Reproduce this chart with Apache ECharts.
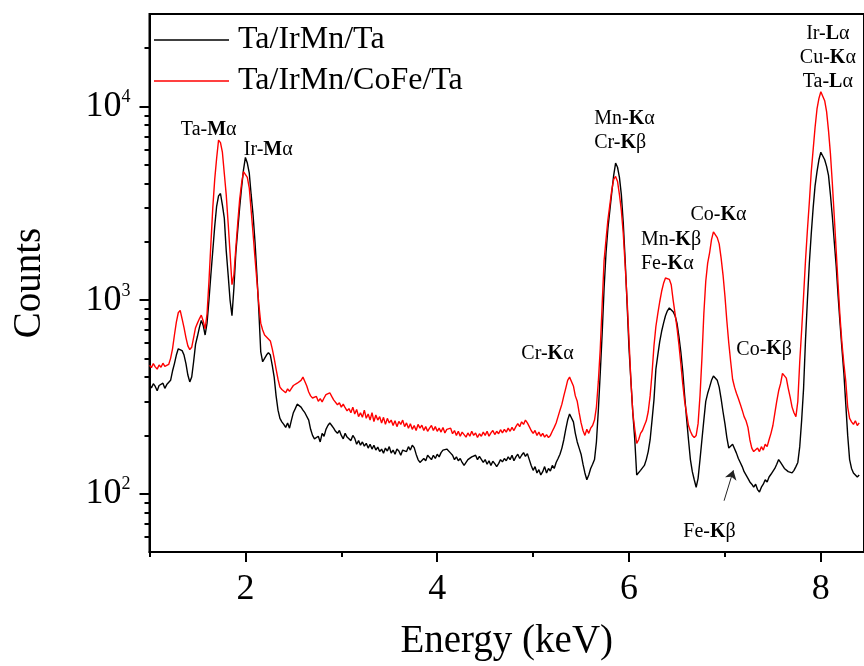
<!DOCTYPE html>
<html><head><meta charset="utf-8">
<script src="https://cdn.jsdelivr.net/npm/echarts@6/dist/echarts.min.js"></script>
<style>html,body{margin:0;padding:0;background:#fff}#c{width:864px;height:666px}</style>
</head><body><div id="c"></div>
<script>
// Energy channel grid (keV)
const energyStart = 1.0;
const energyStep = 0.02;
// Counts, one value per channel (1.00 ... 8.40 keV)
const countsTaIrMnTa = [
365,352,370,358,340,362,355,372,350,366,
372,385,430,470,520,560,565,548,520,470,
410,378,400,480,590,650,720,785,740,660,
760,1000,1350,1800,2400,3050,3450,3550,3100,2650,
1800,1350,1000,830,1150,1750,2300,3000,3800,4700,
5450,5100,4540,3500,2750,2000,1350,880,540,480,
500,520,535,520,460,400,320,270,245,235,
228,220,232,218,240,262,275,290,295,280,
270,262,265,240,215,200,192,188,198,185,
205,198,215,225,232,225,218,210,205,212,
200,192,205,196,195,188,200,193,180,188,
178,185,176,182,172,180,170,178,168,174,
165,170,162,172,166,175,162,168,160,170,
166,158,168,172,165,175,168,178,173,160,
150,145,143,152,148,158,155,150,158,152,
160,155,163,168,172,170,173,162,158,150,
155,148,152,145,140,143,150,147,155,152,
158,150,156,154,145,150,142,148,140,147,
143,138,143,150,146,152,148,155,150,158,
148,155,160,152,158,163,156,161,150,140,
132,138,128,133,125,130,138,128,135,131,
140,135,145,152,160,172,190,215,240,258,
255,235,205,185,172,160,142,128,118,125,
135,142,150,185,270,420,675,1150,1750,2350,
2900,3600,4400,5100,4850,4300,3500,2500,1600,950,
560,380,260,190,125,128,132,135,140,150,
165,190,240,305,440,520,610,690,760,830,
880,910,915,870,830,760,650,540,430,320,
245,190,150,130,118,108,120,150,190,240,
300,330,355,385,405,405,385,355,310,265,
230,195,172,175,180,176,162,152,145,138,
130,127,120,115,112,108,112,105,102,108,
112,118,115,122,126,128,135,142,150,145,
140,135,138,130,133,128,132,138,145,175,
240,350,620,1000,1550,2200,3000,3900,4600,5300,
5800,5750,5300,4900,4400,3500,2700,2000,1500,1050,
760,560,420,290,200,150,135,128,130,122,
125];
const countsTaIrMnCoFeTa = [
460,448,470,452,440,462,450,472,455,448,
465,500,560,660,770,860,885,800,720,640,
580,555,570,640,720,760,800,836,780,710,
850,1250,1950,3000,4200,5400,6700,6500,5800,4500,
3500,2500,1750,1200,1350,1850,2500,3300,4000,4600,
4700,4300,3800,2900,2200,1650,1250,950,760,700,
660,645,630,615,560,500,440,390,355,345,
340,332,348,338,350,362,355,372,368,385,
400,380,360,335,320,312,305,318,300,310,
298,312,325,320,332,318,305,298,288,295,
280,290,278,268,275,262,280,258,272,250,
262,248,270,245,258,240,262,236,255,240,
250,232,248,228,245,232,240,225,238,222,
236,228,240,222,232,218,230,215,225,212,
228,218,226,212,222,210,218,225,212,222,
210,218,208,220,206,215,210,218,204,212,
200,210,198,208,202,196,206,198,210,200,
206,195,204,198,208,200,210,198,206,212,
202,210,204,214,206,215,208,218,210,220,
212,222,230,222,235,228,240,232,222,212,
205,212,200,208,198,205,196,202,195,200,
210,220,232,250,270,290,320,350,385,400,
395,360,320,300,262,232,212,200,215,205,
218,225,240,280,380,560,950,1600,2050,2600,
3100,3700,4200,4350,4100,3500,2900,2200,1500,1000,
620,380,260,215,182,190,205,212,225,238,
265,320,420,580,730,850,980,1110,1220,1300,
1320,1280,1200,1000,850,720,590,470,370,300,
260,225,210,200,195,200,230,320,500,850,
1250,1550,1750,2050,2250,2200,2100,1950,1650,1350,
1050,780,600,480,390,355,330,310,290,270,
250,238,220,190,172,165,162,172,165,175,
168,180,175,190,205,225,260,300,340,370,
418,410,395,350,315,280,262,250,300,480,
700,1050,1600,2300,3200,4600,6000,7800,9700,11000,
11900,11800,10700,9400,7500,5700,4000,2700,1800,1200,
820,600,470,380,280,245,235,228,238,225,
232];
const seriesNames = ['Ta/IrMn/Ta', 'Ta/IrMn/CoFe/Ta'];
// Axis ticks
const xMajorTicks = [2, 4, 6, 8];
const xMinorTicks = [1, 3, 5, 7];
const yMajorTicks = [100, 1000, 10000];
const yMinorTicks = [60,70,80,90,200,300,400,500,600,700,800,900,2000,3000,4000,5000,6000,7000,8000,9000,20000];
// Peak annotations: rich text, anchor energy, anchor counts
const annoText = [
  '{n|Ta-}{b|M}{n|α}',
  '{n|Ir-}{b|M}{n|α}',
  '{n|Mn-}{b|K}{n|α}\n{n|Cr-}{b|K}{n|β}',
  '{n|Mn-}{b|K}{n|β}\n{n|Fe-}{b|K}{n|α}',
  '{n|Co-}{b|K}{n|α}',
  '{n|Cr-}{b|K}{n|α}',
  '{n|Co-}{b|K}{n|β}',
  '{n|Fe-}{b|K}{n|β}',
  '{n|Ir-}{b|L}{n|α}\n{n|Cu-}{b|K}{n|α}\n{n|Ta-}{b|L}{n|α}'
];
const annoEnergy = [1.617, 2.238, 5.637, 6.124, 6.933, 5.150, 7.409, 6.839, 8.073];
const annoCounts = [7600, 5990, 7520, 1782, 2754, 525, 557, 63.5, 17800];
const annoAlign = ['center','center','left','left','center','center','center','center','center'];
const arrowFrom = [6.991, 92];
const arrowTo = [7.088, 132];

const toPairs = arr => arr.map((v, i) => [+(energyStart + i * energyStep).toFixed(2), v]);
const serif = 'Liberation Serif';
const rich = {
  n: { fontFamily: serif, fontSize: 20, color: '#000', lineHeight: 24 },
  b: { fontFamily: serif, fontSize: 20, fontWeight: 'bold', color: '#000', lineHeight: 24 }
};

const chart = echarts.init(document.getElementById('c'), null, { renderer: 'canvas' });
const xMin = 1, xMax = 8.45, yMin = 50, yMax = 30000;
const xBase = {
  type: 'value', min: xMin, max: xMax, gridIndex: 0, splitLine: { show: false }
};
const yBase = {
  type: 'log', logBase: 10, min: yMin, max: yMax, gridIndex: 0, splitLine: { show: false }
};
chart.setOption({
  animation: false,
  grid: { left: 149.5, top: 14, right: -4.5, bottom: 114, show: true, borderColor: '#000', borderWidth: 2, backgroundColor: 'transparent' },
  legend: {
    orient: 'vertical', left: 154, top: 22, padding: 0, itemGap: 5,
    icon: 'rect', itemWidth: 75, itemHeight: 1.6,
    textStyle: { fontFamily: serif, fontSize: 32, color: '#000', lineHeight: 36, padding: [0, 0, 0, 4] },
    data: seriesNames
  },
  xAxis: [
    Object.assign({}, xBase, {
      position: 'bottom',
      name: 'Energy (keV)', nameLocation: 'middle', nameGap: 70,
      nameTextStyle: { fontFamily: serif, fontSize: 39, color: '#000' },
      axisLine: { show: true, lineStyle: { color: '#000', width: 2 } },
      axisTick: { show: true, inside: false, length: 10, lineStyle: { color: '#000', width: 2 }, customValues: xMajorTicks },
      axisLabel: { show: true, margin: 20, fontFamily: serif, fontSize: 36, color: '#000', customValues: xMajorTicks }
    }),
    Object.assign({}, xBase, {
      position: 'bottom',
      axisLine: { show: false },
      axisTick: { show: true, inside: false, length: 5, lineStyle: { color: '#000', width: 2 }, customValues: xMinorTicks },
      axisLabel: { show: false }
    })
  ],
  yAxis: [
    Object.assign({}, yBase, {
      position: 'left',
      name: 'Counts', nameLocation: 'middle', nameGap: 100, nameRotate: 90,
      nameTextStyle: { fontFamily: serif, fontSize: 39, color: '#000' },
      axisLine: { show: true, lineStyle: { color: '#000', width: 2 } },
      axisTick: { show: true, inside: false, length: 10, lineStyle: { color: '#000', width: 2 }, customValues: yMajorTicks },
      axisLabel: {
        show: true, margin: 19, customValues: yMajorTicks,
        formatter: v => '{m|10}{s|' + Math.round(Math.log10(v)) + '}',
        rich: {
          m: { fontFamily: serif, fontSize: 36, color: '#000', lineHeight: 36, verticalAlign: 'bottom' },
          s: { fontFamily: serif, fontSize: 18, color: '#000', lineHeight: 20, verticalAlign: 'top' }
        }
      }
    }),
    Object.assign({}, yBase, {
      position: 'left', offset: 0,
      axisLine: { show: false },
      axisTick: { show: true, inside: false, length: 5, lineStyle: { color: '#000', width: 2 }, customValues: yMinorTicks },
      axisLabel: { show: false }
    })
  ],
  series: [
    {
      name: seriesNames[0], type: 'line', xAxisIndex: 0, yAxisIndex: 0,
      data: toPairs(countsTaIrMnTa), symbol: 'none', showSymbol: false,
      lineStyle: { color: '#000', width: 1.4 }, itemStyle: { color: '#000' },
      markLine: {
        silent: true, symbol: ['none', 'arrow'], symbolSize: 9,
        lineStyle: { color: '#222', width: 1, type: 'solid' },
        label: { show: false },
        data: [[{ coord: arrowFrom }, { coord: arrowTo }]]
      }
    },
    {
      name: seriesNames[1], type: 'line', xAxisIndex: 0, yAxisIndex: 0,
      data: toPairs(countsTaIrMnCoFeTa), symbol: 'none', showSymbol: false,
      lineStyle: { color: '#ff0000', width: 1.4 }, itemStyle: { color: '#ff0000' }
    },
    {
      name: 'annotations', type: 'scatter', xAxisIndex: 0, yAxisIndex: 0,
      symbolSize: 1, itemStyle: { color: 'rgba(0,0,0,0)' }, silent: true,
      data: annoText.map((t, i) => ({
        value: [annoEnergy[i], annoCounts[i]],
        label: { show: true, position: 'inside', formatter: t, align: annoAlign[i], verticalAlign: 'middle', color: '#000', opacity: 1, rich: rich }
      }))
    }
  ]
});
</script></body></html>
